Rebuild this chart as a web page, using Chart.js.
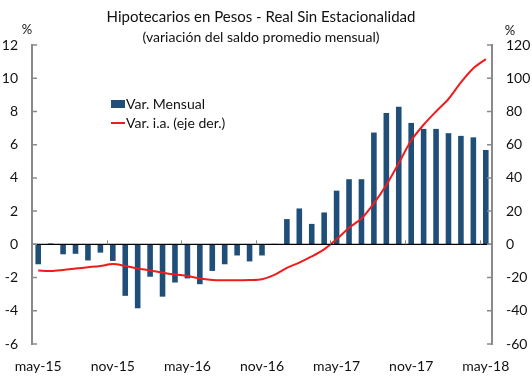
<!DOCTYPE html>
<html>
<head>
<meta charset="utf-8">
<script src="https://cdn.jsdelivr.net/npm/chart.js@4"></script>
<style>
  html, body { margin: 0; padding: 0; background: #fff; }
  #wrap { width: 532px; height: 385px; }
</style>
</head>
<body>
<div id="wrap"><canvas id="c" width="532" height="385"></canvas></div>
<script>
const months = [
  'may-15','jun-15','jul-15','ago-15','sep-15','oct-15','nov-15','dic-15','ene-16','feb-16','mar-16','abr-16',
  'may-16','jun-16','jul-16','ago-16','sep-16','oct-16','nov-16','dic-16','ene-17','feb-17','mar-17','abr-17',
  'may-17','jun-17','jul-17','ago-17','sep-17','oct-17','nov-17','dic-17','ene-18','feb-18','mar-18','abr-18',
  'may-18'
];
const varMensual = [
  -1.2, 0.05, -0.6, -0.57, -0.97, -0.5, -1.0, -3.1, -3.85, -1.95, -3.15, -2.3,
  -2.05, -2.4, -1.6, -1.2, -0.67, -1.03, -0.67, 0.03, 1.52, 2.16, 1.23, 1.92,
  3.23, 3.92, 3.92, 6.73, 7.9, 8.28, 7.31, 6.95, 6.95, 6.69, 6.53, 6.44,
  5.68
];
const varIA = [
  -15.8, -16.0, -15.4, -14.6, -13.8, -13.0, -11.9, -13.0, -14.6, -15.7, -17.1, -18.2,
  -19.0, -20.6, -21.4, -21.6, -21.6, -21.5, -21.0, -18.4, -14.2, -11.0, -7.3, -3.0,
  3.0, 10.0, 15.5, 24.6, 35.7, 48.8, 62.5, 72.0, 80.0, 87.5, 97.5, 106.0,
  111.5
];
const titleText = 'Hipotecarios en Pesos - Real Sin Estacionalidad';
const subtitleText = '(variación del saldo promedio mensual)';

const FONT = 'Lato, "Open Sans", sans-serif';
const BLUE = '#1f4e79';
const RED = '#ee1c1c';
const AXIS = '#8a8a8a';

// title, % marks, legend, inward ticks, zero line
const decor = {
  id: 'decor',
  afterDraw(chart) {
    const { ctx, chartArea, scales } = chart;
    const y = scales.y, y1 = scales.y1, x = scales.x;
    ctx.save();
    ctx.fillStyle = '#111';
    ctx.textAlign = 'center';
    ctx.textBaseline = 'middle';
    ctx.font = '15px ' + FONT;
    ctx.fillText(titleText, 261, 17);
    ctx.font = '14px ' + FONT;
    ctx.fillText(subtitleText, 261, 37);
    ctx.font = '13px ' + FONT;
    ctx.fillText('%', 27, 30);
    ctx.fillText('%', 510, 31);

    // zero line
    const z = y.getPixelForValue(0);
    ctx.strokeStyle = '#000';
    ctx.lineWidth = 1.3;
    ctx.beginPath();
    ctx.moveTo(chartArea.left, z);
    ctx.lineTo(chartArea.right, z);
    ctx.stroke();

    // category ticks above zero line
    ctx.strokeStyle = AXIS;
    ctx.lineWidth = 1;
    ctx.beginPath();
    for (let i = 6; i < months.length; i += 6) {
      const px = Math.round((x.getPixelForValue(i - 1) + x.getPixelForValue(i)) / 2) + 0.5;
      ctx.moveTo(px, z);
      ctx.lineTo(px, z - 4);
    }
    ctx.stroke();

    // inward axis ticks
    ctx.strokeStyle = AXIS;
    ctx.lineWidth = 1.5;
    ctx.beginPath();
    y.ticks.forEach(t => {
      const py = y.getPixelForValue(t.value);
      ctx.moveTo(chartArea.left, py);
      ctx.lineTo(chartArea.left + 5, py);
    });
    y1.ticks.forEach(t => {
      const py = y1.getPixelForValue(t.value);
      ctx.moveTo(chartArea.right, py);
      ctx.lineTo(chartArea.right - 5, py);
    });
    ctx.stroke();

    // legend
    const ds = chart.data.datasets;
    ctx.textAlign = 'left';
    ctx.font = '14px ' + FONT;
    ctx.fillStyle = ds[0].backgroundColor;
    ctx.fillRect(111, 100, 14, 8);
    ctx.strokeStyle = ds[1].borderColor;
    ctx.lineWidth = 2;
    ctx.beginPath();
    ctx.moveTo(111, 123);
    ctx.lineTo(125, 123);
    ctx.stroke();
    ctx.fillStyle = '#111';
    ctx.fillText(ds[0].label, 126, 104);
    ctx.fillText(ds[1].label, 126, 123);
    ctx.restore();
  }
};

new Chart(document.getElementById('c'), {
  type: 'bar',
  data: {
    labels: months,
    datasets: [
      {
        label: 'Var. Mensual',
        data: varMensual,
        backgroundColor: BLUE,
        categoryPercentage: 1,
        barPercentage: 0.45,
        yAxisID: 'y',
        order: 2,
      },
      {
        type: 'line',
        label: 'Var. i.a. (eje der.)',
        data: varIA,
        borderColor: RED,
        borderWidth: 2,
        pointRadius: 0,
        tension: 0.3,
        yAxisID: 'y1',
        order: 1,
      },
    ],
  },
  options: {
    responsive: false,
    animation: false,
    layout: { padding: { top: 45, left: 0, right: 0, bottom: 0 } },
    plugins: { legend: { display: false }, tooltip: { enabled: false } },
    scales: {
      x: {
        grid: { display: false, drawTicks: false },
        border: { display: false },
        ticks: {
          autoSkip: false,
          maxRotation: 0,
          padding: 14,
          color: '#111',
          font: { family: FONT, size: 14 },
          callback: (v, i) => (i % 6 === 0 ? months[i] : ''),
        },
        afterFit: (s) => { s.height = 41; },
      },
      y: {
        position: 'left',
        min: -6, max: 12,
        grid: { display: false, drawTicks: false },
        border: { display: true, color: AXIS, width: 2 },
        ticks: { stepSize: 2, padding: 14, color: '#111', font: { family: FONT, size: 14 } },
        afterFit: (s) => { s.width = 32; },
      },
      y1: {
        position: 'right',
        min: -60, max: 120,
        grid: { display: false, drawTicks: false },
        border: { display: true, color: AXIS, width: 2 },
        ticks: { stepSize: 20, padding: 14, color: '#111', font: { family: FONT, size: 14 } },
        afterFit: (s) => { s.width = 40; },
      },
    },
  },
  plugins: [decor],
});
</script>
</body>
</html>
